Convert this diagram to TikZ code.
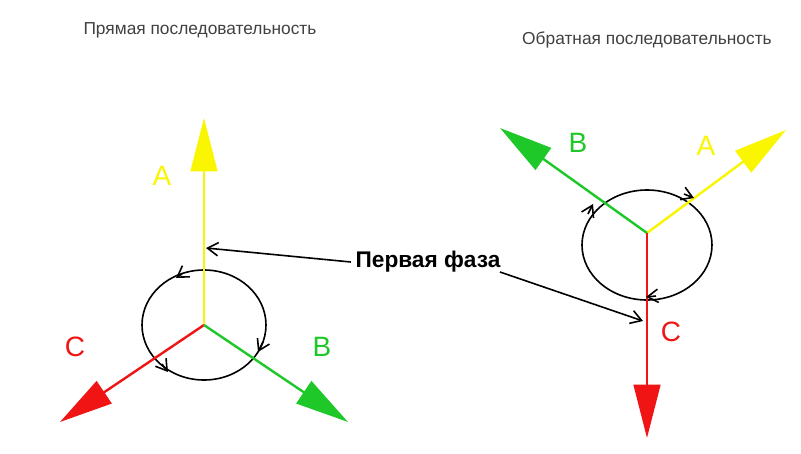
\documentclass[tikz,border=0pt]{standalone}
\usepackage{fontspec}
\setmainfont{Liberation Sans}
\usetikzlibrary{arrows.meta}
\definecolor{gr}{RGB}{30,200,40}
\definecolor{yl}{RGB}{250,245,0}
\definecolor{rd}{RGB}{240,20,20}
\begin{document}
\begin{tikzpicture}[x=0.75pt,y=-0.75pt,
  vec/.style={line width=1.8pt,-{Triangle[length=40pt,width=20pt]}},
  circ/.style={line width=1.2pt,black},
  lbl/.style={font=\fontsize{21}{21}\selectfont},
  ttl/.style={font=\fontsize{13}{13}\selectfont,text=black!75},
  sa/.style={circ,-{Straight Barb[length=8pt,width=10pt]}},
  ptr/.style={line width=1.2pt,-{Straight Barb[length=8pt,width=10pt]}}]
\useasboundingbox (0,0) rectangle (801,454);
% left
\coordinate (O1) at (204,325);
\node[ttl] (t1) at (200,30) {Прямая последовательность};
\draw[circ] (O1) ellipse [x radius=62, y radius=55];
\draw[vec,yl] (O1) -- (204,118);
\draw[vec,rd] (O1) -- (60,422);
\draw[vec,gr] (O1) -- (348,422);
\draw[sa] (182,274) -- (176,278);
\draw[sa] (263,342) -- (258,352);
\draw[sa] (162,364) -- (168,372);
\node[lbl,text=yl] (A1) at (162,176) {A};
\node[lbl,text=rd] (C1) at (75,347) {C};
\node[lbl,text=gr] (B1) at (322,347) {B};
% right
\coordinate (O2) at (647,233);
\node[ttl] (t2) at (647,40) {Обратная последовательность};
\draw[circ] (647,245) ellipse [x radius=65, y radius=55];
\draw[vec,yl] (O2) -- (786,130);
\draw[vec,gr] (O2) -- (500,128);
\draw[vec,rd] (O2) -- (647,438);
\draw[sa] (684,194) -- (694,198);
\draw[sa] (588,214) -- (593,204);
\draw[sa] (656,296) -- (646,297);
\node[lbl,text=gr] (B2) at (578,143) {B};
\node[lbl,text=yl] (A2) at (706,146) {A};
\node[lbl,text=rd] (C2) at (671,332) {C};
% label
\node[font=\bfseries\fontsize{17}{17}\selectfont] (pf) at (428,262) {Первая фаза};
\coordinate (p1) at (206,248);
\coordinate (p2) at (643,321);
\draw[ptr] (pf.west) -- (p1);
\draw[ptr] (500,272) -- (p2);
\end{tikzpicture}
\end{document}
